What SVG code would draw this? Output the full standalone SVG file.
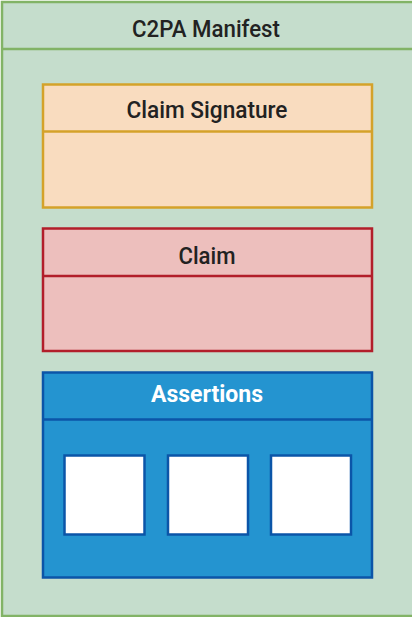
<svg xmlns="http://www.w3.org/2000/svg" width="412" height="617" viewBox="0 0 412 617">
<style>
text{font-family:Roboto,"Liberation Sans",Arial,sans-serif;font-size:23px;font-weight:500;text-anchor:middle;fill:#222222}
text.w{font-weight:bold;fill:#ffffff}
.b{stroke-width:2.5}
</style>
<rect width="412" height="617" fill="#ffffff"/>
<g id="manifest">
<rect x="2" y="2" width="420" height="614" fill="#c5ddcc" stroke="#82b366" stroke-width="2.5"/>
<line x1="2" y1="49" x2="420" y2="49" stroke="#82b366" stroke-width="2.5"/>
<text x="206" y="37" textLength="148" lengthAdjust="spacingAndGlyphs">C2PA Manifest</text>
</g>
<g id="claim-signature">
<rect x="43" y="84.5" width="329" height="123" fill="#f9dcbf" stroke="#d4a22a" class="b"/>
<line x1="43" y1="131.5" x2="372" y2="131.5" stroke="#d4a22a" class="b"/>
<text x="207" y="118" textLength="161" lengthAdjust="spacingAndGlyphs">Claim Signature</text>
</g>
<g id="claim">
<rect x="43" y="228.5" width="329" height="122.5" fill="#edbfbd" stroke="#b21e2a" class="b"/>
<line x1="43" y1="276" x2="372" y2="276" stroke="#b21e2a" class="b"/>
<text x="207" y="264" textLength="57" lengthAdjust="spacingAndGlyphs">Claim</text>
</g>
<g id="assertions">
<rect x="43" y="372.5" width="329" height="205" fill="#2494d0" stroke="#0b55a8" class="b"/>
<line x1="43" y1="419.5" x2="372" y2="419.5" stroke="#0b55a8" class="b"/>
<text class="w" x="207" y="402" textLength="112" lengthAdjust="spacingAndGlyphs">Assertions</text>
</g>
<g id="assertion-1"><rect x="64.5" y="455.5" width="80" height="79" fill="#ffffff" stroke="#0b55a8" class="b"/></g>
<g id="assertion-2"><rect x="168" y="455.5" width="80" height="79" fill="#ffffff" stroke="#0b55a8" class="b"/></g>
<g id="assertion-3"><rect x="271" y="455.5" width="80" height="79" fill="#ffffff" stroke="#0b55a8" class="b"/></g>
<g id="connectors"></g>
</svg>
